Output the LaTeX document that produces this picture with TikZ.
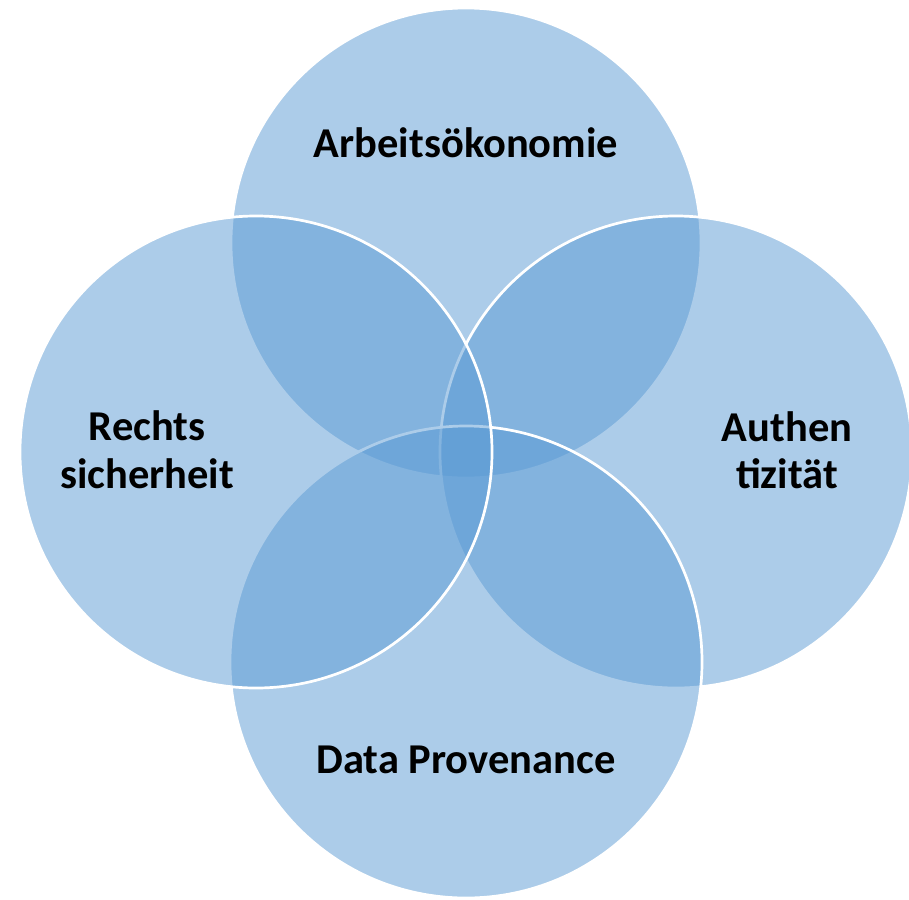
\documentclass[tikz,border=0pt]{standalone}
\usepackage{fontspec}
\setmainfont{Carlito}
\definecolor{venn}{RGB}{91,155,213}
\begin{document}
\begin{tikzpicture}[x=1pt,y=-1pt,
  venncircle/.style={fill=venn,fill opacity=0.5,draw=white,line width=2.7pt},
  lbl/.style={font=\fontsize{42.5}{50}\selectfont\bfseries,text=black,inner sep=0pt,anchor=base}]
\useasboundingbox (0,0) rectangle (909,899);
\fill[white] (0,0) rectangle (909,899);
\draw[venncircle] (466,243) circle[radius=235];
\draw[venncircle] (676,452) circle[radius=236];
\draw[venncircle] (466,662) circle[radius=236];
\draw[venncircle] (256,452) circle[radius=236];
\node[lbl] (arbeit) at (466,157) {Arbeitsökonomie};
\node[lbl] (rechts1) at (147,440) {Rechts};
\node[lbl] (rechts2) at (147,488) {sicherheit};
\node[lbl] (authen1) at (787,441) {Authen};
\node[lbl] (authen2) at (787,488) {tizität};
\node[lbl] (data) at (466,773) {Data Provenance};
\end{tikzpicture}
\end{document}
